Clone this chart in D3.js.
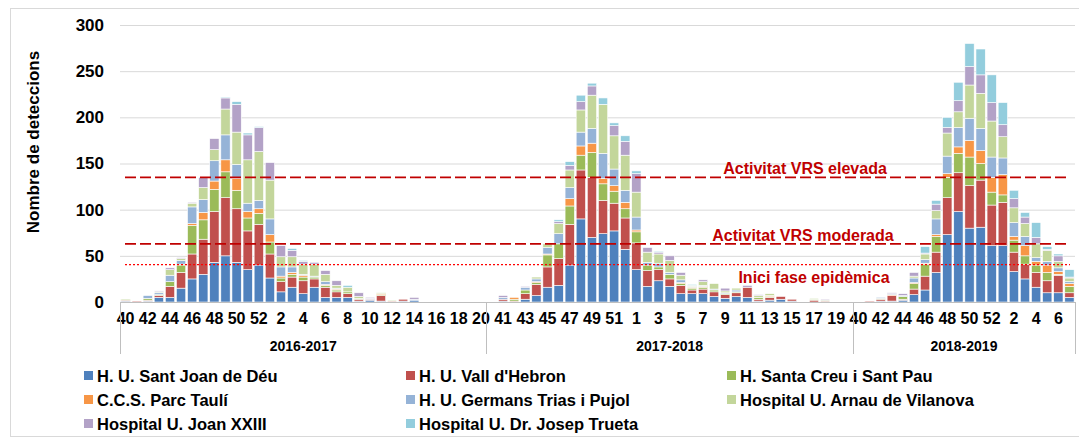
<!DOCTYPE html>
<html><head><meta charset="utf-8">
<script src="https://cdn.jsdelivr.net/npm/d3@7"></script>
<style>body{margin:0;background:#fff} svg{display:block;font-family:"Liberation Sans",Arial,sans-serif}</style>
</head><body><svg id="c" width="1079" height="439"></svg>
<script>
// ---------- DATA ----------
const weeks = [
  40,41,42,43,44,45,46,47,48,49,50,51,52,1,2,3,4,5,6,7,8,9,10,11,12,13,14,15,16,17,18,19,20,
  40,41,42,43,44,45,46,47,48,49,50,51,52,1,2,3,4,5,6,7,8,9,10,11,12,13,14,15,16,17,18,19,20,
  40,41,42,43,44,45,46,47,48,49,50,51,52,1,2,3,4,5,6,7
];
const seasons = ["2016-2017","2017-2018","2018-2019"];
const seasonLengths = [33,33,20];
const seriesNames = ["H. U. Sant Joan de Déu","H. U. Vall d'Hebron","H. Santa Creu i Sant Pau","C.C.S. Parc Taulí","H. U. Germans Trias i Pujol","Hospital U. Arnau de Vilanova","Hospital U. Joan XXIII","Hospital U. Dr. Josep Trueta"];
const seriesColors = ["#4f81bd","#c0504d","#9bbb59","#f79646","#95b3d7","#c3d69b","#b3a2c7","#93cddd"];

const santJoan = [1,0,1,5,5,15,25,30,43,50,43,35,40,26,11,16,9,16,5,5,5,1,2,1,0,1,2,0,0,0,0,0,0,
  0,1,0,3,7,16,18,40,90,70,74,77,57,35,17,23,17,9,9,9,6,4,6,5,1,2,3,1,0,0,0,0,0,
  0,0,1,1,2,8,13,32,73,98,80,81,61,61,33,25,16,10,10,5];
const vallHebron = [1,1,1,2,12,17,27,38,55,63,58,42,44,26,11,11,14,9,11,6,4,2,1,6,1,2,0,0,0,0,0,0,0,
  0,2,1,6,12,22,29,44,53,65,36,30,34,29,17,12,8,9,4,5,5,4,4,11,2,3,3,2,0,2,1,0,0,
  0,1,2,6,1,6,15,22,40,42,46,51,44,47,21,16,16,13,19,5];
const santPau = [1,0,2,1,5,8,31,21,24,28,20,14,12,13,4,3,4,2,2,2,2,1,0,1,0,0,0,0,0,0,0,0,0,
  0,0,2,4,2,13,16,20,16,27,18,13,10,12,6,3,5,2,2,2,2,1,1,0,2,1,0,0,0,1,1,0,0,
  0,0,1,0,3,6,13,17,22,21,31,18,14,8,13,9,8,9,1,7];
const parcTauli = [0,0,0,0,0,1,2,8,9,13,13,7,5,8,2,2,2,0,1,1,0,0,0,1,0,0,0,0,0,0,0,0,0,
  0,0,2,0,1,1,0,8,10,10,6,6,7,2,0,0,0,1,1,1,0,0,0,0,0,1,0,0,0,0,0,0,0,
  0,0,0,1,0,1,1,2,4,7,18,14,16,22,4,11,4,8,3,3];
const germansTrias = [0,0,3,2,7,4,18,14,22,27,15,9,9,17,10,6,1,1,3,1,0,0,1,0,0,0,1,0,0,0,0,0,0,
  0,2,0,3,3,7,11,12,15,16,27,18,13,14,3,4,2,3,1,1,1,1,2,0,0,0,0,0,0,0,0,0,0,
  0,0,1,1,1,5,4,17,19,21,24,24,22,18,15,10,4,4,4,2];
const arnauVilanova = [0,0,0,1,6,2,4,13,12,28,35,47,53,42,11,11,11,13,8,3,5,2,0,1,1,0,0,0,0,0,0,0,0,
  0,0,0,0,2,4,11,19,24,36,53,36,38,27,11,10,13,5,1,4,6,2,2,0,2,2,0,0,0,1,0,0,0,
  0,0,0,0,0,2,6,9,25,17,36,38,39,23,16,14,15,12,7,4];
const joanXXIII = [0,0,0,1,2,1,1,11,12,12,30,27,26,19,12,7,3,2,4,5,0,4,1,0,0,0,2,0,0,0,0,0,0,
  0,2,0,1,0,0,2,5,9,10,0,11,15,20,5,2,5,3,0,2,0,3,0,2,1,0,0,0,0,0,1,0,0,
  0,0,0,1,2,4,1,7,6,12,20,20,20,13,10,7,7,1,6,1];
const josepTrueta = [0,0,0,0,0,0,0,0,0,1,3,2,1,0,0,2,1,0,0,0,2,0,0,0,0,0,0,0,0,0,0,0,0,
  0,0,0,0,0,0,2,4,7,3,7,3,6,3,0,1,0,0,1,0,0,0,0,0,0,0,0,0,0,0,0,0,0,
  0,0,0,0,0,0,7,4,11,20,25,28,30,24,9,5,16,3,2,8];

const yTicks = [0,50,100,150,200,250,300];
const thresholdNames = ["Activitat VRS elevada","Activitat VRS moderada","Inici fase epidèmica"];
const thresholdValues = [135,63,40.5];

// ---------- CHART ----------
const svg = d3.select("#c");
const W = 1079, H = 439;
const plotL = 120, plotR = 1075, plotT = 25, plotB = 302;

// outer border
svg.append("rect").attr("x",10.5).attr("y",8.5).attr("width",1080).attr("height",428)
  .attr("fill","none").attr("stroke","#d9d9d9");

const idx = d3.range(weeks.length);
const x = d3.scaleBand().domain(idx).range([plotL, plotR]).paddingInner(0.16).paddingOuter(0.08);
const y = d3.scaleLinear().domain([0,300]).range([plotB, plotT]);

// gridlines
svg.append("g").selectAll("line").data(yTicks.filter(d=>d>0)).join("line")
  .attr("x1",plotL).attr("x2",plotR).attr("y1",d=>y(d)+0.5).attr("y2",d=>y(d)+0.5)
  .attr("stroke","#d9d9d9").attr("stroke-width",1);

// y axis labels
const yAxis = d3.axisLeft(y).tickValues(yTicks).tickSize(0).tickPadding(16);
const gy = svg.append("g").attr("transform",`translate(${plotL},0)`).call(yAxis);
gy.select(".domain").remove();
gy.selectAll("text").attr("font-size",17).attr("font-weight","bold").attr("fill","#000")
  .attr("font-family","'Liberation Sans',Arial,sans-serif");

// y title
svg.append("text").attr("transform","translate(39,142) rotate(-90)")
  .attr("text-anchor","middle").attr("font-size",17).attr("font-weight","bold").text("Nombre de deteccions");

// stacked bars
const allSeries = [santJoan, vallHebron, santPau, parcTauli, germansTrias, arnauVilanova, joanXXIII, josepTrueta];
const rows = idx.map(i => { const r = {i}; allSeries.forEach((s,k)=> r["s"+k] = s[i]); return r; });
const keys = allSeries.map((s,k)=>"s"+k);
const stacked = d3.stack().keys(keys)(rows);

svg.append("g").selectAll("g").data(stacked).join("g")
  .attr("fill",(d,k)=>seriesColors[k])
  .selectAll("rect").data(d=>d.filter(p=>p[1]-p[0]>0)).join("rect")
  .attr("x",d=>x(d.data.i)).attr("width",x.bandwidth())
  .attr("y",d=>y(d[1])).attr("height",d=>y(d[0])-y(d[1]))
  .attr("stroke","#ffffff").attr("stroke-width",0.6);

// x axis baseline
svg.append("line").attr("x1",plotL).attr("x2",plotR).attr("y1",plotB+0.5).attr("y2",plotB+0.5)
  .attr("stroke","#bfbfbf");

// week labels (every other)
const xAxis = d3.axisBottom(x).tickValues(idx.filter(i=>i%2===0)).tickFormat(i=>weeks[i]).tickSize(0).tickPadding(11);
const gx = svg.append("g").attr("transform",`translate(0,${plotB})`).call(xAxis);
gx.select(".domain").remove();
gx.selectAll("text").attr("font-size",16).attr("font-weight","bold").attr("fill","#000")
  .attr("font-family","'Liberation Sans',Arial,sans-serif");

// season dividers and labels
let start = 0;
const bounds = [0];
seasonLengths.forEach(n => { start += n; bounds.push(start); });
const step = x.step();
const xEdge = i => plotL + (plotR-plotL) * i / weeks.length;
svg.append("g").selectAll("line").data(bounds).join("line")
  .attr("x1",d=>Math.round(xEdge(d))+0.5).attr("x2",d=>Math.round(xEdge(d))+0.5)
  .attr("y1",plotB).attr("y2",354).attr("stroke","#bfbfbf");
svg.append("g").selectAll("text").data(seasons).join("text")
  .attr("x",(d,k)=>(xEdge(bounds[k])+xEdge(bounds[k+1]))/2).attr("y",351)
  .attr("text-anchor","middle").attr("font-size",14).attr("font-weight","bold").text(d=>d);

// threshold lines
const thrStyle = [
  {color:"#c00000", dash:"11,4", w:1.6, tx:805, dy:-3},
  {color:"#c00000", dash:"11,4", w:1.6, tx:803, dy:-3},
  {color:"#ff0000", dash:"2,2", w:1.4, tx:814, dy:18}
];
thresholdValues.forEach((v,k)=>{
  const st = thrStyle[k];
  svg.append("line").attr("x1",125).attr("x2",1070).attr("y1",y(v)).attr("y2",y(v))
    .attr("stroke",st.color).attr("stroke-width",st.w).attr("stroke-dasharray",st.dash);
  svg.append("text").attr("x",st.tx).attr("y",y(v)+st.dy).attr("text-anchor","middle")
    .attr("font-size",16).attr("font-weight","bold").attr("fill","#c00000").text(thresholdNames[k]);
});

// legend
const legCols = [84, 406, 727];
const legRows = [376, 400, 424];
const leg = svg.append("g").selectAll("g").data(seriesNames).join("g")
  .attr("transform",(d,k)=>`translate(${legCols[k%3]},${legRows[Math.floor(k/3)]})`);
leg.append("rect").attr("x",0).attr("y",-5).attr("width",9).attr("height",9).attr("fill",(d,k)=>seriesColors[k]);
leg.append("text").attr("x",13).attr("y",6).attr("font-size",16.5).attr("font-weight","bold").text(d=>d);
</script></body></html>
